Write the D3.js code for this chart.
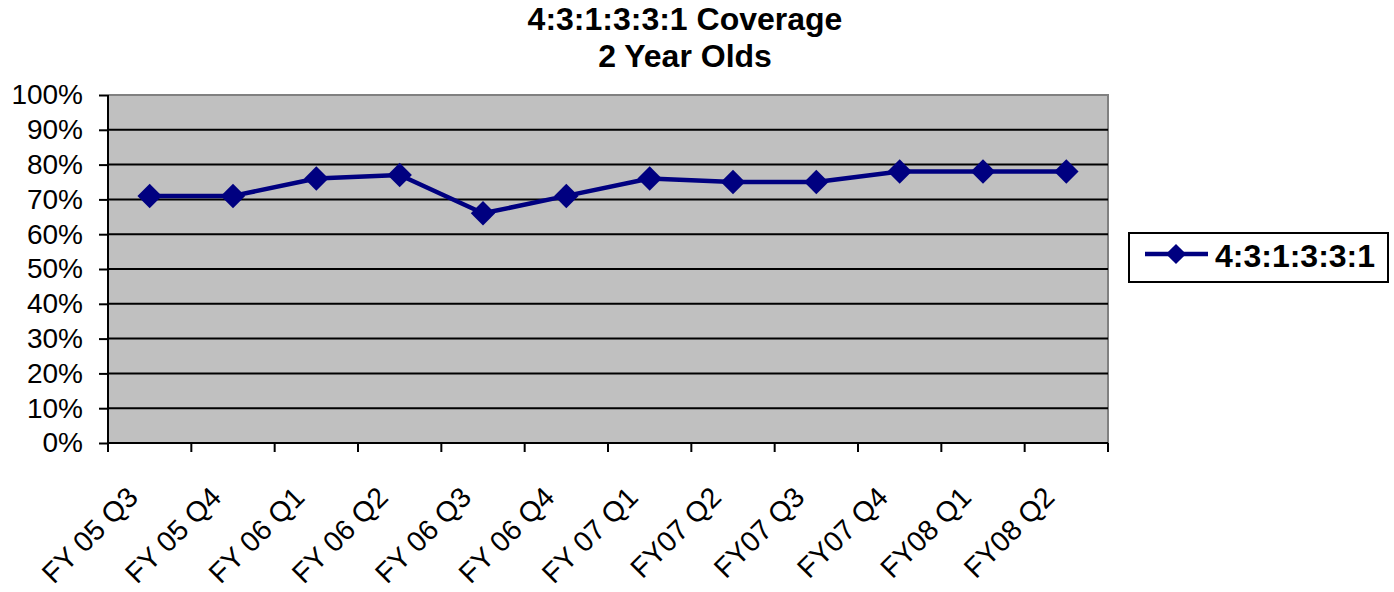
<!DOCTYPE html>
<html>
<head>
<meta charset="utf-8">
<script src="https://cdn.jsdelivr.net/npm/d3@7"></script>
<style>
  html, body { margin: 0; padding: 0; background: #fff; }
  svg { display: block; font-family: Arial, "Liberation Sans", sans-serif; }
</style>
</head>
<body>
<svg id="chart" width="1394" height="592"></svg>
<script>
const categories = ["FY 05 Q3","FY 05 Q4","FY 06 Q1","FY 06 Q2","FY 06 Q3","FY 06 Q4","FY 07 Q1","FY07 Q2","FY07 Q3","FY07 Q4","FY08 Q1","FY08 Q2"];
const coverage = [71, 71, 76, 77, 66, 71, 76, 75, 75, 78, 78, 78];
const yTicks = [0,10,20,30,40,50,60,70,80,90,100];
const seriesName = "4:3:1:3:3:1";
const titleLines = ["4:3:1:3:3:1 Coverage", "2 Year Olds"];

(function () {
const svg = d3.select("#chart");
const pLeft = 108, pRight = 1108, pTop = 95, pBottom = 443;

const x = d3.scaleBand().domain(categories).range([pLeft, pRight]).padding(0);
const y = d3.scaleLinear().domain([0, 100]).range([pBottom, pTop]);

// plot background
svg.append("rect").attr("x", pLeft).attr("y", pTop).attr("width", pRight - pLeft).attr("height", pBottom - pTop)
  .attr("fill", "#C0C0C0");
// gray frame top/right
svg.append("path").attr("d", `M${pLeft},${pTop}H${pRight}V${pBottom}`).attr("fill", "none")
  .attr("stroke", "#808080").attr("stroke-width", 2);

// gridlines
svg.append("g").selectAll("line").data(yTicks.filter(d => d > 0 && d < 100)).join("line")
  .attr("x1", pLeft).attr("x2", pRight).attr("y1", d => y(d)).attr("y2", d => y(d))
  .attr("stroke", "#000").attr("stroke-width", 2);

// y axis
const yAxis = d3.axisLeft(y).tickValues(yTicks).tickSize(9).tickPadding(16).tickFormat(d => d + "%");
const gy = svg.append("g").attr("transform", `translate(${pLeft},0)`).call(yAxis);
gy.select(".domain").attr("stroke", "#000").attr("stroke-width", 2).attr("d", `M0,${pTop}V${pBottom}`);
gy.selectAll(".tick line").attr("stroke", "#000").attr("stroke-width", 2);
gy.selectAll(".tick text").attr("font-size", 28).attr("fill", "#000")
  .attr("font-family", "Arial, 'Liberation Sans', sans-serif");

// x axis with ticks at category boundaries
const boundaries = categories.map(c => x(c)).concat([pRight]);
svg.append("line").attr("x1", pLeft).attr("x2", pRight).attr("y1", pBottom).attr("y2", pBottom)
  .attr("stroke", "#000").attr("stroke-width", 2);
svg.append("g").selectAll("line").data(boundaries).join("line")
  .attr("x1", d => d).attr("x2", d => d).attr("y1", pBottom).attr("y2", pBottom + 9)
  .attr("stroke", "#000").attr("stroke-width", 2);
svg.append("g").selectAll("text").data(categories).join("text")
  .attr("transform", d => `translate(${x(d) + x.bandwidth() / 2 - 10},${pBottom + 56}) rotate(-45)`)
  .attr("text-anchor", "end").attr("font-size", 28.5).attr("fill", "#000")
  .text(d => d);

// line
const cx = (d, i) => x(categories[i]) + x.bandwidth() / 2;
const line = d3.line().x((d, i) => cx(d, i)).y(d => y(d));
svg.append("path").datum(coverage).attr("d", line).attr("fill", "none")
  .attr("stroke", "#000080").attr("stroke-width", 4.5).attr("stroke-linejoin", "round");

const diamond = d3.symbol().type(d3.symbolDiamond2).size(380);
svg.append("g").selectAll("path").data(coverage).join("path")
  .attr("d", diamond)
  .attr("transform", (d, i) => `translate(${cx(d, i)},${y(d)})`)
  .attr("fill", "#000080");

// title
svg.append("g").selectAll("text").data(titleLines).join("text")
  .attr("x", 685).attr("y", (d, i) => 30 + i * 37)
  .attr("text-anchor", "middle").attr("font-size", 32).attr("font-weight", "bold").attr("fill", "#000")
  .text(d => d);

// legend
const lg = svg.append("g");
lg.append("rect").attr("x", 1129).attr("y", 233).attr("width", 259).attr("height", 49)
  .attr("fill", "#fff").attr("stroke", "#000").attr("stroke-width", 2);
lg.append("line").attr("x1", 1145).attr("x2", 1208).attr("y1", 254).attr("y2", 254)
  .attr("stroke", "#000080").attr("stroke-width", 4.5);
lg.append("path").attr("d", d3.symbol().type(d3.symbolDiamond2).size(260)).attr("transform", "translate(1176,254)").attr("fill", "#000080");
lg.append("text").attr("x", 1215).attr("y", 267).attr("font-size", 32).attr("font-weight", "bold")
  .attr("fill", "#000").text(seriesName);
})();
</script>
</body>
</html>
